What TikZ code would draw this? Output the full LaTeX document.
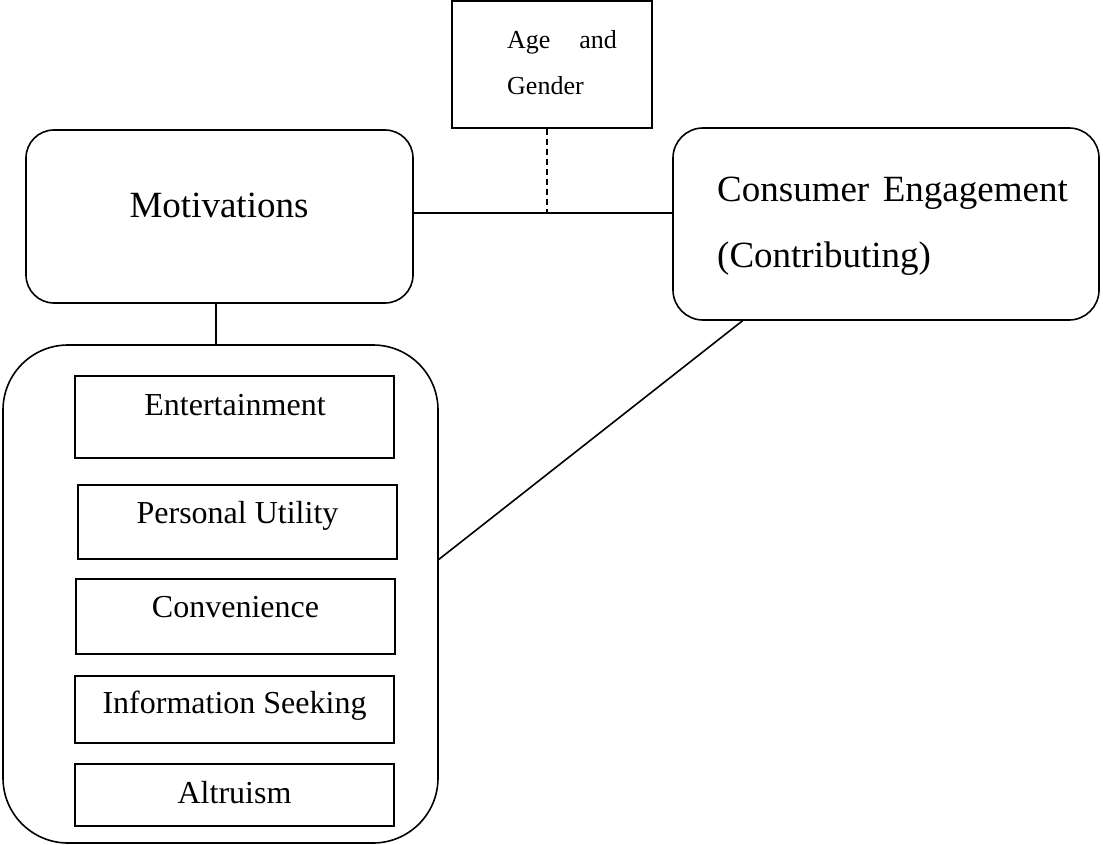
\documentclass[tikz,border=0pt]{standalone}
\usepackage{fontspec}
\setmainfont{Liberation Serif}
\begin{document}
\begin{tikzpicture}[x=1pt,y=-1pt,
  ln/.style={line width=1.6pt},
  rbox/.style={draw,line width=1.6pt,rounded corners=#1,inner sep=0pt},
  sbox/.style={draw,line width=1.2pt,inner sep=0pt},
  lbl/.style={inner sep=0pt,anchor=base}]
\useasboundingbox (0,0) rectangle (1103,845);
% boxes
\node[sbox,minimum width=200pt,minimum height=127pt] (age) at (552,64.5) {};
\node[rbox=28pt,minimum width=387pt,minimum height=173pt] (mot) at (219.5,216.5) {};
\node[rbox=30pt,minimum width=426pt,minimum height=192pt] (cons) at (886,224) {};
\node[rbox=65pt,minimum width=435pt,minimum height=498pt] (big) at (220.5,594) {};
\node[sbox,minimum width=319pt,minimum height=82pt] (ent) at (234.5,417) {};
\node[sbox,minimum width=319pt,minimum height=74pt] (pu) at (237.5,522) {};
\node[sbox,minimum width=319pt,minimum height=75pt] (conv) at (235.5,616.5) {};
\node[sbox,minimum width=319pt,minimum height=67pt] (info) at (234.5,709.5) {};
\node[sbox,minimum width=319pt,minimum height=62pt] (alt) at (234.5,795) {};
% texts
\node[lbl,anchor=base west,font=\fontsize{26}{30}\selectfont] (t1) at (507,49) {Age};
\node[lbl,anchor=base east,font=\fontsize{26}{30}\selectfont] (t2) at (617,49) {and};
\node[lbl,anchor=base west,font=\fontsize{26}{30}\selectfont] (t3) at (507,95) {Gender};
\node[lbl,font=\fontsize{37}{44}\selectfont] (t4) at (219,218) {Motivations};
\node[lbl,anchor=base west,font=\fontsize{37}{44}\selectfont] (t5) at (717,202) {Consumer};
\node[lbl,anchor=base east,font=\fontsize{37}{44}\selectfont] (t6) at (1068,202) {Engagement};
\node[lbl,anchor=base west,font=\fontsize{37}{44}\selectfont] (t7) at (717,267) {(Contributing)};
\node[lbl,font=\fontsize{32}{38}\selectfont] (t8) at (235,415) {Entertainment};
\node[lbl,font=\fontsize{32}{38}\selectfont] (t9) at (237.5,523) {Personal Utility};
\node[lbl,font=\fontsize{32}{38}\selectfont] (t10) at (235.5,617) {Convenience};
\node[lbl,font=\fontsize{32}{38}\selectfont] (t11) at (234.5,713) {Information Seeking};
\node[lbl,font=\fontsize{32}{38}\selectfont] (t12) at (234.5,803) {Altruism};
% connectors
\coordinate (j) at (547,213);
\draw[ln] (mot.east|-j) -- (cons.west|-j);
\draw[ln,dash pattern=on 6pt off 4pt] (age.south-|j) -- (j);
\draw[ln] (mot.south-|216,0) -- (big.north-|216,0);
\draw[ln] (big.9.4) -- (cons.214.2);
\end{tikzpicture}
\end{document}
